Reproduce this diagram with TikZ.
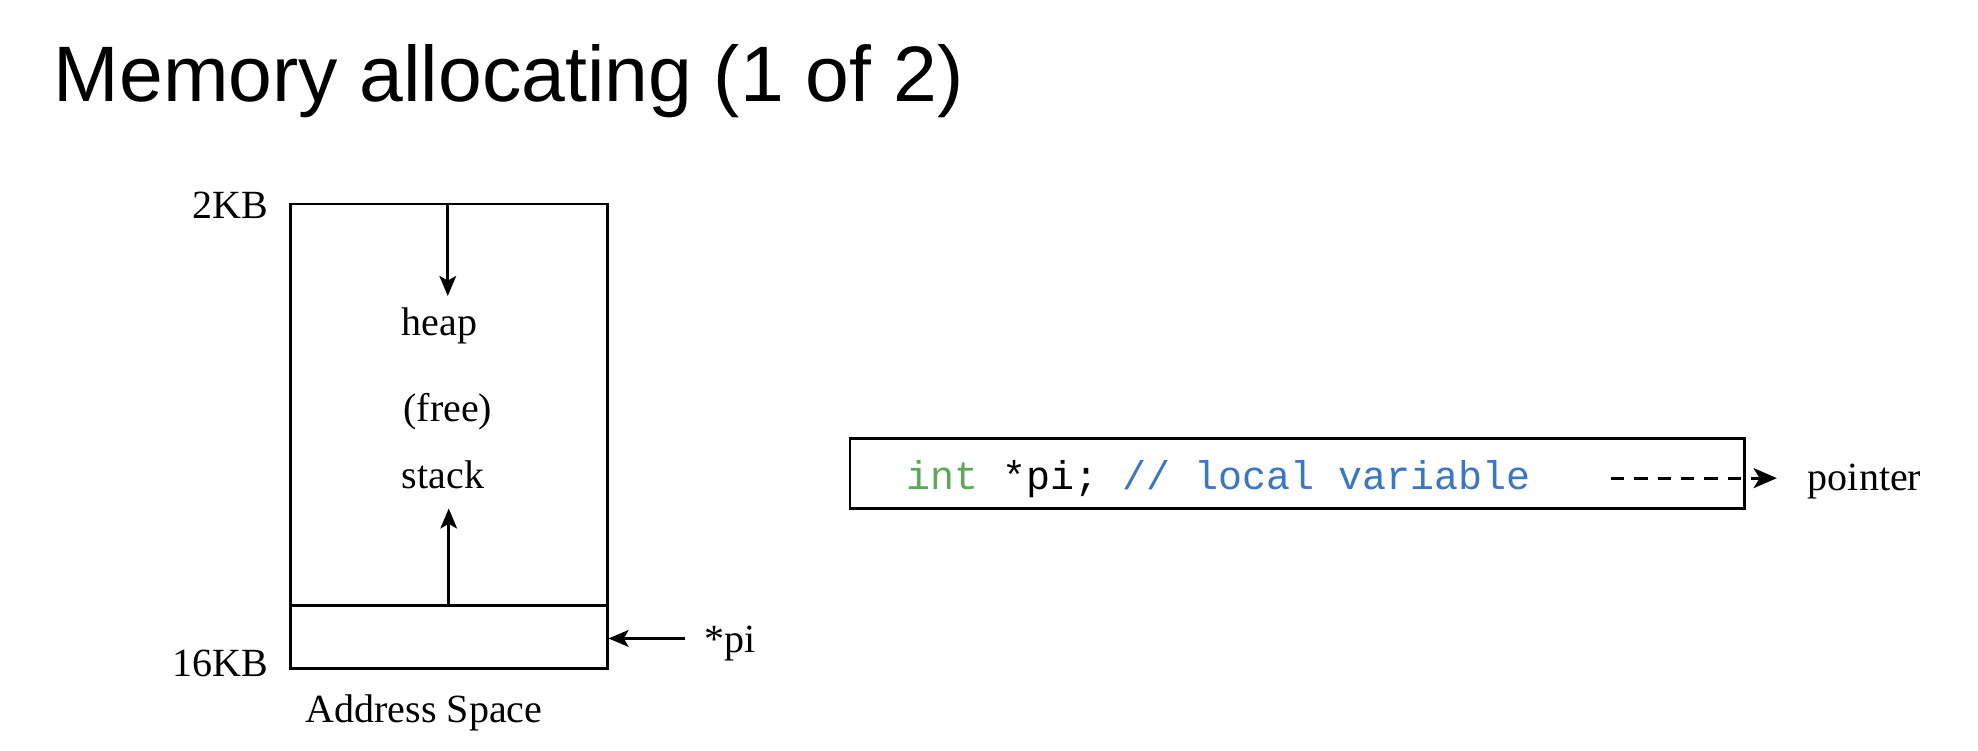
\documentclass[tikz,border=0pt]{standalone}
\usepackage{fontspec}
\setmainfont{Liberation Serif}
\setsansfont{Liberation Sans}
\setmonofont{Liberation Mono}
\usepackage{xcolor}
\usetikzlibrary{arrows.meta, positioning}
\definecolor{KeyGreen}{RGB}{92,168,88}
\definecolor{CommentBlue}{RGB}{58,118,196}

\begin{document}
\begin{tikzpicture}[
  seg/.style={draw, line width=0.8pt, minimum width=3.34cm, inner sep=0pt},
  txt/.style={font=\fontsize{12}{14}\selectfont, inner sep=0pt},
  arr/.style={-{Stealth[length=6pt, width=5pt, inset=1.4pt]}, line width=0.8pt},
]
\useasboundingbox (0,0) rectangle (20.85,7.91);
\node[font=\sffamily\fontsize{23.6}{28}\selectfont, anchor=base west, inner sep=0pt] (title) at (0.56,6.84) {Memory allocating (1 of 2)};

\node[seg, minimum height=4.23cm] (mem) at (4.73,3.645) {};
\node[seg, minimum height=0.67cm] (slot) at (4.73,1.195) {};
\node[txt, anchor=east] (kb2) at (2.83,5.75) {2KB};
\node[txt, anchor=east] (kb16) at (2.83,0.92) {16KB};
\node[txt] (aspace) at (4.47,0.40) {Address Space};

\node[txt] (heap) at (4.63,4.48) {heap};
\node[txt] (free) at (4.72,3.57) {(free)};
\node[txt] (stack) at (4.67,2.90) {stack};
\coordinate (heaptip) at (4.72,4.79);
\coordinate (stacktip) at (4.73,2.55);
\draw[arr] (mem.north -| heaptip) -- (heaptip);
\draw[arr] (slot.north -| stacktip) -- (stacktip);

\node[txt, anchor=west] (pi) at (7.42,1.13) {*pi};
\coordinate (pistart) at (7.22,1.18);
\draw[arr] (pistart) -- (slot.east |- pistart);

\node[draw, line width=0.8pt, minimum width=9.43cm, minimum height=0.74cm, inner sep=0pt] (code) at (13.675,2.92) {};
\node[anchor=west, inner sep=0pt, font=\ttfamily\fontsize{12}{14}\selectfont] (line) at (9.55,2.86)
  {\textcolor{KeyGreen}{int} *pi; \textcolor{CommentBlue}{// local variable}};
\node[txt, anchor=west] (ptr) at (19.05,2.83) {pointer};
\coordinate (dash0) at (16.98,2.87);
\coordinate (dash1) at (18.73,2.87);
\draw[-{Stealth[length=7pt, width=6pt, inset=1.8pt]}, line width=0.9pt, dash pattern=on 4pt off 3pt] (dash0) -- (dash1);
\end{tikzpicture}
\end{document}
